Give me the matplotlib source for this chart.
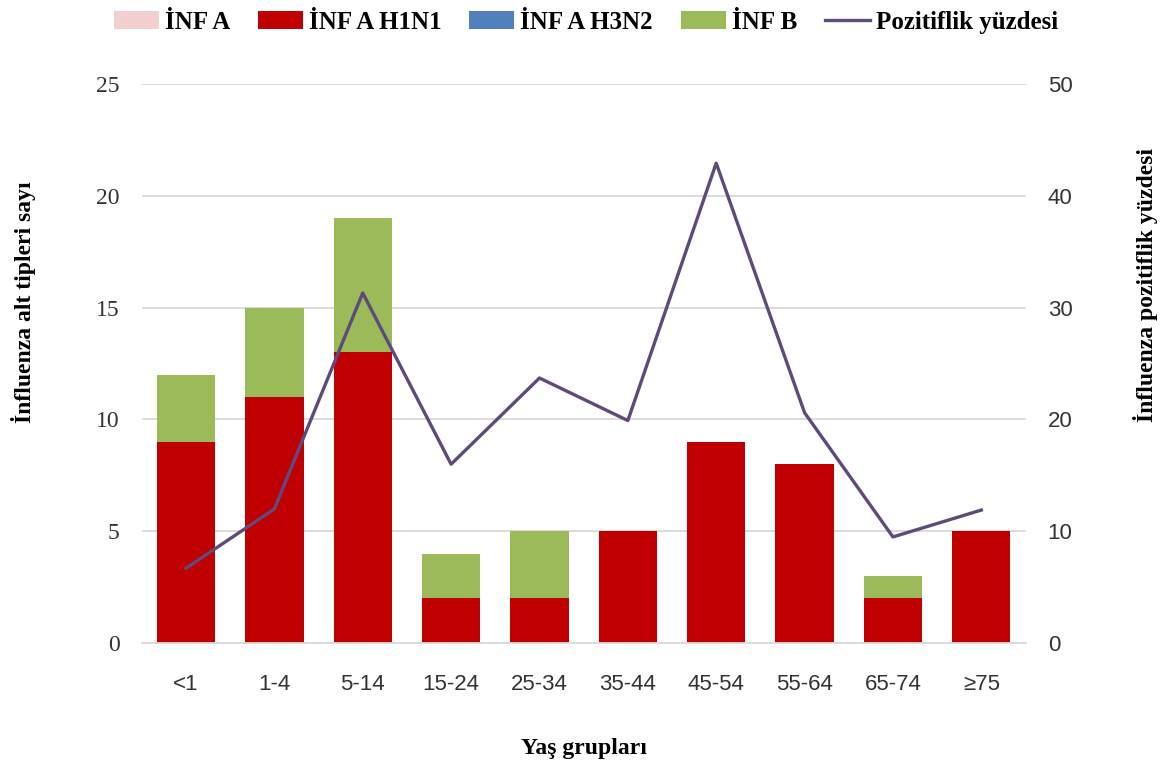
import numpy as np
from matplotlib import pyplot as plt

plt.rcParams['font.family'] = ['Liberation Serif', 'DejaVu Serif']

age_groups = ['<1', '1-4', '5-14', '15-24', '25-34', '35-44', '45-54', '55-64', '65-74', '≥75']
inf_a = [0, 0, 0, 0, 0, 0, 0, 0, 0, 0]
inf_a_h1n1 = [9, 11, 13, 2, 2, 5, 9, 8, 2, 5]
inf_a_h3n2 = [0, 0, 0, 0, 0, 0, 0, 0, 0, 0]
inf_b = [3, 4, 6, 2, 3, 0, 0, 0, 1, 0]
positivity = [6.7, 12.0, 31.3, 16.0, 23.7, 19.9, 42.9, 20.6, 9.5, 11.9]

x = np.arange(len(age_groups))
a = np.array(inf_a)
h1 = np.array(inf_a_h1n1)
h3 = np.array(inf_a_h3n2)
b = np.array(inf_b)

fig = plt.figure(figsize=(11.72, 7.75), dpi=100)
ax = fig.add_axes([0.121, 0.170, 0.754, 0.722])
w = 0.66
ax.bar(x, a, w, color='#f2d0d0', label='İNF A', zorder=2)
ax.bar(x, h1, w, bottom=a, color='#c00000', label='İNF A H1N1', zorder=2)
ax.bar(x, h3, w, bottom=a + h1, color='#4f81bd', label='İNF A H3N2', zorder=2)
ax.bar(x, b, w, bottom=a + h1 + h3, color='#9bbb59', label='İNF B', zorder=2)

ax.set_ylim(0, 25)
ax.set_yticks(range(0, 26, 5))
ax.set_xlim(-0.5, len(x) - 0.5)
ax.set_xticks(x, age_groups, fontfamily=['Liberation Sans', 'DejaVu Sans'])
ax.yaxis.grid(True, color='#d9d9d9', linewidth=1.3, zorder=0)
ax.set_axisbelow(True)
for s in ['top', 'right', 'left']:
    ax.spines[s].set_visible(False)
ax.spines['bottom'].set_color('#d9d9d9')
ax.spines['bottom'].set_linewidth(1.3)
ax.tick_params(axis='x', length=0, labelsize=16, colors='#333333', pad=22)
ax.tick_params(axis='y', length=0, labelsize=17, colors='#333333', pad=16)
ax.set_xlabel('Yaş grupları', fontsize=17, fontweight='bold', va='center')
ax.xaxis.set_label_coords(0.5, -0.188)
ax.set_ylabel('İnfluenza alt tipleri sayı', fontsize=17, fontweight='bold')
ax.yaxis.set_label_coords(-0.12, 0.61)

ax2 = ax.twinx()
line, = ax2.plot(x, positivity, color='#604a7b', linewidth=2.4, label='Pozitiflik yüzdesi', zorder=3)
ax2.set_ylim(0, 50)
ax2.set_yticks(range(0, 51, 10))
for lbl in ax2.get_yticklabels():
    lbl.set_fontfamily(['Liberation Sans', 'DejaVu Sans'])
for s in ['top', 'right', 'left', 'bottom']:
    ax2.spines[s].set_visible(False)
ax2.tick_params(length=0, labelsize=16, colors='#333333', pad=16)
ax2.set_ylabel('İnfluenza pozitiflik yüzdesi', fontsize=17, fontweight='bold')
ax2.yaxis.set_label_coords(1.122, 0.64)

h_, l_ = ax.get_legend_handles_labels()
fig.legend(h_ + [line], l_ + ['Pozitiflik yüzdesi'], loc='upper center', bbox_to_anchor=(0.5, 1.015),
           ncol=5, frameon=False, prop={'size': 18, 'weight': 'bold'},
           handlelength=1.8, handletextpad=0.25, columnspacing=1.1)

plt.savefig('out.png')
